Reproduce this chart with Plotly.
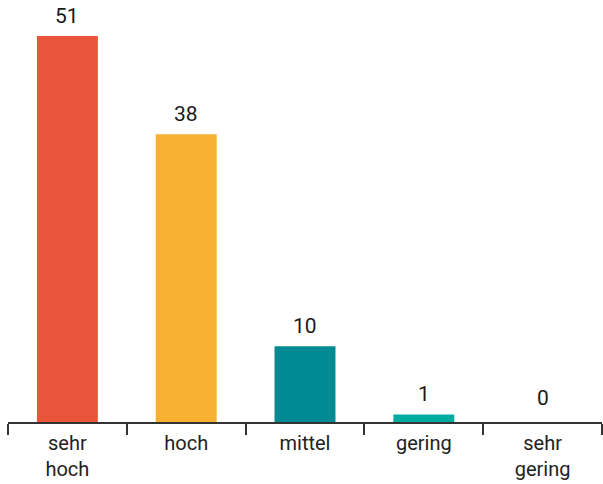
import plotly.graph_objects as go

categories = ["sehr<br>hoch", "hoch", "mittel", "gering", "sehr<br>gering"]
values = [51, 38, 10, 1, 0]
colors = ["#E8553B", "#F7B032", "#008A94", "#00AC9F", "#00AC9F"]

fig = go.Figure()
fig.add_trace(go.Bar(
    x=categories, y=values,
    marker=dict(color=colors, line=dict(width=0)),
    hoverinfo="skip",
))
for c, v in zip(categories, values):
    fig.add_annotation(x=c, y=v, text=str(v), showarrow=False,
                       yanchor="bottom", yshift=6 if v > 0 else 10,
                       font=dict(family="Roboto", size=21, color="#1a1a1a"))

fig.update_layout(
    width=603, height=484,
    margin=dict(l=8, r=1, t=0, b=62),
    paper_bgcolor="white", plot_bgcolor="white",
    bargap=0.487,
    showlegend=False,
    font=dict(family="Roboto", size=20, color="#222222"),
)
fig.update_xaxes(
    automargin=False,
    showline=True, linecolor="#333333", linewidth=1.5,
    ticks="outside", tickson="boundaries", ticklen=11, tickwidth=1.5, tickcolor="#333333",
    ticklabelstandoff=2,
    showgrid=False, tickfont=dict(size=20, color="#222222"),
)
fig.update_yaxes(range=[0, 55.75], visible=False, showgrid=False, zeroline=False, automargin=False)

fig.write_html("out.html", config={"displayModeBar": False},
               post_script="document.body.style.margin='0';document.body.style.overflow='hidden';")
